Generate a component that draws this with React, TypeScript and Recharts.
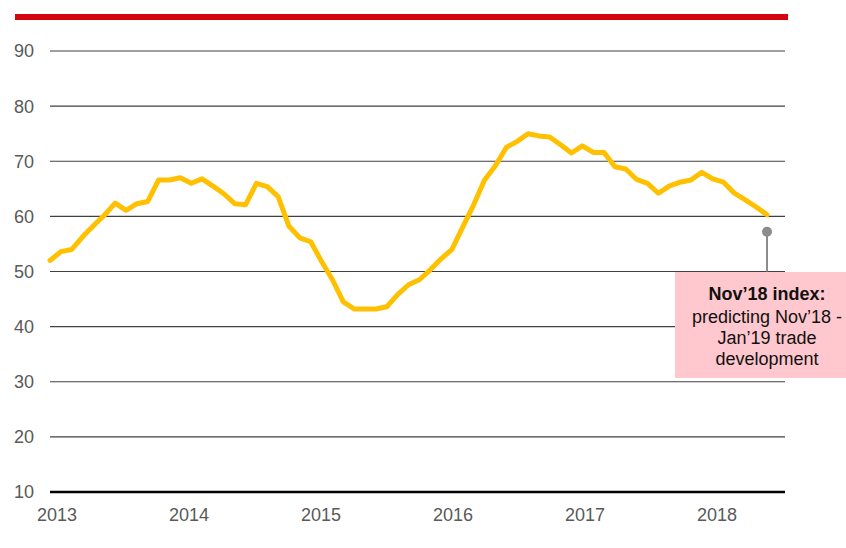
import React from "react";
import {
  LineChart,
  Line,
  XAxis,
  YAxis,
  CartesianGrid,
  ReferenceDot,
  ReferenceLine,
} from "recharts";

// Monthly index values, Jan 2013 onwards
const indexValues: number[] = [
  52.0, 53.6, 54.0, 56.3, 58.3, 60.2, 62.4, 61.1, 62.3, 62.7,
  66.6, 66.6, 67.0, 66.0, 66.8, 65.5, 64.1, 62.3, 62.1, 66.0,
  65.4, 63.6, 58.2, 56.1, 55.4, 51.8, 48.5, 44.5, 43.2, 43.2,
  43.2, 43.6, 45.8, 47.6, 48.5, 50.3, 52.3, 54.0, 58.1, 62.1,
  66.6, 69.2, 72.5, 73.6, 75.0, 74.6, 74.4, 73.0, 71.5, 72.8,
  71.6, 71.6, 69.0, 68.6, 66.7, 66.0, 64.2, 65.5, 66.2, 66.6,
  68.0, 66.8, 66.2, 64.2, 63.0, 61.7, 60.3,
];

const yearLabels: string[] = ["2013", "2014", "2015", "2016", "2017", "2018"];
const yTicks: number[] = [10, 20, 30, 40, 50, 60, 70, 80, 90];

const forecastValue = 57.2;
const annotationTitle = "Nov’18 index:";
const annotationLines: string[] = ["predicting Nov’18 -", "Jan’19 trade", "development"];

const data = indexValues.map((v, i) => ({ i, v }));
const yearTicks = yearLabels.map((_, k) => 0.65 + k * 12.15);
const lastIdx = indexValues.length - 1;

const FONT = "'Liberation Sans', Arial, Helvetica, sans-serif";

export default function App() {
  return (
    <div
      style={{
        position: "absolute",
        left: 0,
        top: 0,
        width: 846,
        height: 548,
        overflow: "hidden",
        background: "#fff",
        fontFamily: FONT,
      }}
    >
      <div
        style={{
          position: "absolute",
          left: 15,
          top: 14,
          width: 773,
          height: 6,
          background: "#D40511",
        }}
      />
      <LineChart
        width={846}
        height={548}
        data={data}
        margin={{ top: 51, right: 61, bottom: 26, left: 0 }}
      >
        <CartesianGrid horizontal vertical={false} stroke="#404040" strokeWidth={1.2} strokeOpacity={1} />
        <XAxis
          dataKey="i"
          type="number"
          domain={[0, lastIdx]}
          padding={{ left: 0, right: 18 }}
          ticks={yearTicks}
          tickFormatter={(_: number, idx: number) => yearLabels[idx]}
          tickLine={false}
          tickSize={0}
          tickMargin={16}
          axisLine={{ stroke: "#000", strokeWidth: 2.5 }}
          height={30}
          interval={0}
          tick={{ fill: "#595959", fontSize: 18, fontFamily: FONT }}
        />
        <YAxis
          type="number"
          domain={[10, 90]}
          ticks={yTicks}
          width={50}
          axisLine={false}
          tickLine={false}
          tickSize={0}
          tickMargin={16}
          interval={0}
          tick={{ fill: "#595959", fontSize: 18, fontFamily: FONT }}
        />
        <Line
          type="linear"
          dataKey="v"
          stroke="#FFC000"
          strokeWidth={5}
          dot={false}
          isAnimationActive={false}
          strokeLinejoin="round"
          strokeLinecap="round"
        />
        <ReferenceLine
          segment={[
            { x: lastIdx, y: forecastValue },
            { x: lastIdx, y: 50 },
          ]}
          stroke="#8c8c8c"
          strokeWidth={2}
        />
        <ReferenceDot
          x={lastIdx}
          y={forecastValue}
          r={5}
          fill="#8c8c8c"
          stroke="none"
        />
      </LineChart>
      <div
        style={{
          position: "absolute",
          left: 675,
          top: 272,
          width: 171,
          height: 106,
          background: "#FFC7CE",
          overflow: "hidden",
        }}
      >
        <div
          style={{
            position: "absolute",
            left: 0,
            top: 12,
            width: 184,
            textAlign: "center",
            fontSize: 18,
            lineHeight: "21px",
            color: "#111",
            fontFamily: FONT,
          }}
        >
          <div style={{ fontWeight: "bold", marginBottom: 2 }}>{annotationTitle}</div>
          {annotationLines.map((l) => (
            <div key={l}>{l}</div>
          ))}
        </div>
      </div>
    </div>
  );
}
